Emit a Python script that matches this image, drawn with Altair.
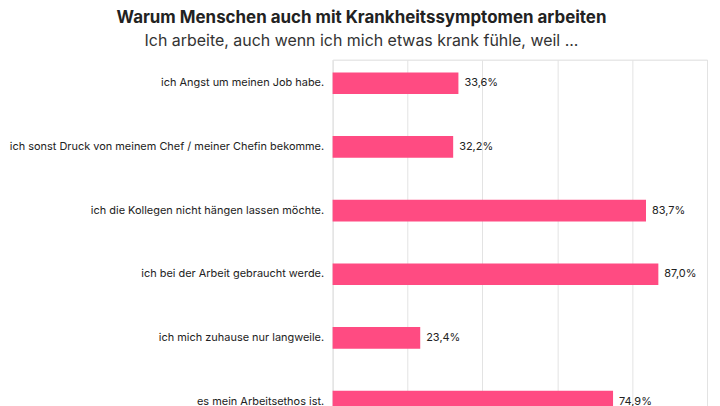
import altair as alt
import pandas as pd

gruende = [
    "ich Angst um meinen Job habe.",
    "ich sonst Druck von meinem Chef / meiner Chefin bekomme.",
    "ich die Kollegen nicht hängen lassen möchte.",
    "ich bei der Arbeit gebraucht werde.",
    "ich mich zuhause nur langweile.",
    "es mein Arbeitsethos ist.",
]
anteile = [33.6, 32.2, 83.7, 87.0, 23.4, 74.9]

df = pd.DataFrame({"grund": gruende, "anteil": anteile})
df["label"] = df["anteil"].map(lambda v: f"{v:.1f}%".replace(".", ","))

y = alt.Y("grund:N", sort=gruende, title=None,
          scale=alt.Scale(paddingInner=0.66, paddingOuter=0.2),
          axis=alt.Axis(labelFontSize=11, labelColor="#222", labelPadding=9,
                        labelLimit=400, ticks=False, domain=False, labelFont="Inter"))
x = alt.X("anteil:Q", title=None, scale=alt.Scale(domain=[0, 100]),
          axis=alt.Axis(values=[0, 20, 40, 60, 80, 100], labels=False, ticks=False,
                        domain=False, gridColor="#e3e3e3"))

bars = alt.Chart(df).mark_bar(color="#FF4B82").encode(x=x, y=y)
text = alt.Chart(df).mark_text(align="left", dx=6, fontSize=11, color="#222",
                               font="Inter").encode(x="anteil:Q", y=alt.Y("grund:N", sort=gruende), text="label")

chart = (bars + text).properties(
    width=376, height=367,
    title=alt.Title("Warum Menschen auch mit Krankheitssymptomen arbeiten",
                    subtitle="Ich arbeite, auch wenn ich mich etwas krank fühle, weil ...",
                    font="Inter", fontSize=17, fontWeight="bold", color="#222",
                    subtitleFont="Inter", subtitleFontSize=16, subtitleColor="#333",
                    subtitlePadding=6, anchor="middle", frame="group", offset=2, dx=-159, dy=-8)
).configure_view(stroke=None).configure(padding={"left": 0, "top": 0, "right": 5, "bottom": 5})

chart.save("out.html", embed_options={"renderer": "svg", "actions": False})
